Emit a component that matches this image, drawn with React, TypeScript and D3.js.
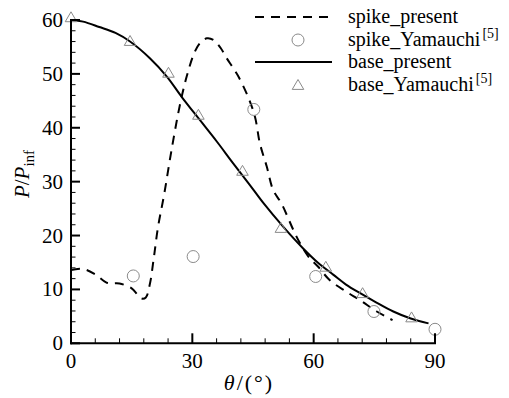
import React from "react";
import * as d3 from "d3";

const xTicks = [0, 30, 60, 90];
const yTicks = [0, 10, 20, 30, 40, 50, 60];

const spikePresentX = [0, 3, 6, 9, 12, 15, 16.5, 17.5, 18.5, 19.5, 20.5, 21.5, 23, 25, 27, 28.6, 30.6, 32, 33.6, 35.2, 37, 38.5, 40, 41.4, 43.8, 45.5, 46.7, 48.4, 50, 52, 55, 56.6, 59, 61, 64, 68, 71.5, 75.6, 79.5];
const spikePresentY = [13.6, 13.8, 12.8, 11.2, 11.1, 10.2, 9.0, 8.3, 8.5, 11.0, 16.0, 21.5, 27.5, 36.5, 44.5, 49.5, 54.1, 55.8, 56.6, 56.3, 54.8, 52.9, 51.2, 49.5, 45.7, 42.0, 37.1, 32.8, 28.4, 26.0, 21.0, 18.6, 15.8, 14.3, 11.7, 9.6, 8.0, 5.9, 4.3];

const spikeYamX = [15.4, 30.2, 45.2, 60.5, 74.9, 90];
const spikeYamY = [12.5, 16.1, 43.4, 12.4, 5.9, 2.6];

const basePresentX = [0, 3, 7, 11, 14.6, 19.5, 23.7, 27.4, 31.9, 36, 40.1, 44, 47.6, 52.5, 57.4, 61, 64.9, 68, 71.5, 75, 79.7, 84, 88.4];
const basePresentY = [60, 59.7, 58.7, 57.6, 56.0, 52.9, 49.5, 45.7, 41.4, 37.5, 33.4, 29.6, 26.0, 21.6, 17.6, 15.0, 12.7, 10.9, 9.3, 7.8, 5.9, 4.6, 3.7];

const baseYamX = [0, 14.6, 24.1, 31.5, 42.4, 51.9, 63.0, 72.1, 84.2];
const baseYamY = [60.5, 56.1, 50.2, 42.4, 32.0, 21.4, 14.2, 9.3, 4.8];

const legendItems = ["spike_present", "spike_Yamauchi", "base_present", "base_Yamauchi"];

export default function App() {
  const W = 509, H = 398;
  const x = d3.scaleLinear().domain([0, 90]).range([71, 435]);
  const y = d3.scaleLinear().domain([0, 60]).range([343.3, 20]);
  const line = d3.line<[number, number]>().x(d => x(d[0])).y(d => y(d[1])).curve(d3.curveCatmullRom);
  const spikeLine = line(spikePresentX.map((v, i) => [v, spikePresentY[i]] as [number, number]));
  const baseLine = line(basePresentX.map((v, i) => [v, basePresentY[i]] as [number, number]));
  const xMinor = d3.range(0, 91, 6).filter(v => v % 30 !== 0);
  const yMinor = d3.range(0, 61, 2).filter(v => v % 10 !== 0);
  const font = "'Liberation Serif', 'DejaVu Serif', serif";
  const gray = "#8a8a8a";
  const tri = (cx: number, cy: number, s = 5.5) => `M${cx},${cy - s}L${cx + s * 1.05},${cy + s * 0.8}L${cx - s * 1.05},${cy + s * 0.8}Z`;
  const legY = [17, 40, 62, 85];
  return (
    <svg width={W} height={H} style={{ position: "absolute", left: 0, top: 0, background: "#fff" }} fontFamily={font}>
      {/* data */}
      <path d={baseLine || ""} fill="none" stroke="#000" strokeWidth={2} />
      <path d={spikeLine || ""} fill="none" stroke="#000" strokeWidth={2} strokeDasharray="9,7" />
      {spikeYamX.map((v, i) => (
        <circle key={"c" + i} cx={x(v)} cy={y(spikeYamY[i])} r={6} fill="none" stroke={gray} strokeWidth={1} />
      ))}
      {baseYamX.map((v, i) => (
        <path key={"t" + i} d={tri(x(v), y(baseYamY[i]))} fill="none" stroke={gray} strokeWidth={1} />
      ))}
      {/* axes */}
      <line x1={71} x2={71} y1={y(60) - 1} y2={y(0) + 1} stroke="#000" strokeWidth={2} />
      <line x1={70} x2={436} y1={y(0)} y2={y(0)} stroke="#000" strokeWidth={2} />
      {yTicks.map(t => (
        <g key={"yt" + t}>
          <line x1={71} x2={80} y1={y(t)} y2={y(t)} stroke="#000" strokeWidth={2} />
          <text x={63} y={y(t) + 7} textAnchor="end" fontSize={21}>{t}</text>
        </g>
      ))}
      {yMinor.map(t => (
        <line key={"ym" + t} x1={71} x2={75.5} y1={y(t)} y2={y(t)} stroke="#000" strokeWidth={1} />
      ))}
      {xTicks.map(t => (
        <g key={"xt" + t}>
          <line x1={x(t)} x2={x(t)} y1={y(0)} y2={y(0) - 10} stroke="#000" strokeWidth={2} />
          <text x={x(t)} y={y(0) + 25} textAnchor="middle" fontSize={21}>{t}</text>
        </g>
      ))}
      {xMinor.map(t => (
        <line key={"xm" + t} x1={x(t)} x2={x(t)} y1={y(0)} y2={y(0) - 5} stroke="#000" strokeWidth={1} />
      ))}
      {/* axis titles */}
      <text x={249} y={390} textAnchor="middle" fontSize={22} letterSpacing={2}>
        <tspan fontStyle="italic">θ</tspan>/(°)
      </text>
      <text transform="translate(29,174) rotate(-90)" textAnchor="middle" fontSize={21}>
        <tspan fontStyle="italic">P</tspan>/<tspan fontStyle="italic">P</tspan>
        <tspan fontSize={15} dy={5}>inf</tspan>
      </text>
      {/* legend */}
      <line x1={255} x2={332} y1={legY[0]} y2={legY[0]} stroke="#000" strokeWidth={2} strokeDasharray="9,7" />
      <circle cx={298} cy={legY[1]} r={6} fill="none" stroke={gray} strokeWidth={1} />
      <line x1={255} x2={332} y1={legY[2]} y2={legY[2]} stroke="#000" strokeWidth={2} />
      <path d={tri(298, legY[3])} fill="none" stroke={gray} strokeWidth={1} />
      {legendItems.map((s, i) => (
        <text key={s} x={348} y={legY[i] + 6} fontSize={20}>
          {s}
          {i % 2 === 1 ? <tspan fontSize={14} dx={2} dy={-8}>[5]</tspan> : null}
        </text>
      ))}
    </svg>
  );
}
